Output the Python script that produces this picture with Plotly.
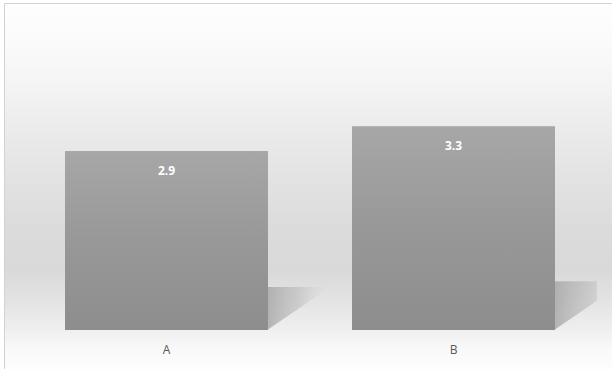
import base64
import plotly.graph_objects as go

# ---- data ----
categories = ["A", "B"]
values = [2.9, 3.3]
value_labels = ["2.9", "3.3"]

# ---- layout constants ----
W, H = 612, 369
ML, MR, MT, MB = 23, 15, 20, 39
BAR_W = 0.707
Y_MAX = 5.03
x_pos = list(range(len(categories)))

fig = go.Figure()

# background gradient (full figure) + thin frame lines, as an SVG image
stops = [(0, "#fefefe"), (40, "#fbfbfb"), (80, "#f5f5f5"), (115, "#eeeeee"),
         (170, "#e4e4e4"), (230, "#dbdbdb"), (270, "#d9d9d9"), (300, "#e3e3e3"),
         (330, "#efefef"), (350, "#f9f9f9"), (369, "#fdfdfd")]
stop_xml = "".join(f'<stop offset="{p / H:.4f}" stop-color="{c}"/>' for p, c in stops)
svg = (f'<svg xmlns="http://www.w3.org/2000/svg" width="{W}" height="{H}" viewBox="0 0 {W} {H}" preserveAspectRatio="none">'
       f'<defs><linearGradient id="g" x1="0" y1="0" x2="0" y2="1">{stop_xml}</linearGradient></defs>'
       f'<rect x="0" y="0" width="{W}" height="{H}" fill="url(#g)"/>'
       f'<rect x="0" y="0" width="{W}" height="3" fill="#ffffff"/>'
       f'<rect x="0" y="0" width="4" height="{H}" fill="#ffffff"/>'
       f'<line x1="4.5" y1="3.5" x2="{W}" y2="3.5" stroke="#d2d2d2" stroke-width="1"/>'
       f'<line x1="4.5" y1="3.5" x2="4.5" y2="{H}" stroke="#d2d2d2" stroke-width="1"/>'
       '</svg>')
src = "data:image/svg+xml;base64," + base64.b64encode(svg.encode()).decode()
pw, ph = W - ML - MR, H - MT - MB
fig.add_layout_image(dict(source=src, xref="paper", yref="paper",
                          x=-ML / pw, y=1 + MT / ph, sizex=W / pw, sizey=H / ph,
                          xanchor="left", yanchor="top", sizing="stretch", layer="below"))

# bars
fig.add_trace(go.Bar(x=x_pos, y=values, width=BAR_W, marker=dict(color="#9a9a9a", line=dict(width=0)),
                     hoverinfo="skip", showlegend=False))

# vertical gradient overlay on each bar + cast shadows
for i, v in zip(x_pos, values):
    xl, xr = i - BAR_W / 2, i + BAR_W / 2
    fig.add_trace(go.Scatter(x=[xl, xr, xr, xl, xl], y=[0, 0, v, v, 0], mode="lines",
                             line=dict(width=0), fill="toself",
                             fillgradient=dict(type="vertical", start=0, stop=v,
                                               colorscale=[[0, "#8d8d8d"], [0.5, "#989898"], [1, "#a7a7a7"]]),
                             hoverinfo="skip", showlegend=False))
    sh_h = 0.24 * v
    sh_w = 0.075 * v
    fig.add_trace(go.Scatter(x=[xr, xr, xr + sh_w, xr], y=[0.01, sh_h, sh_h, 0.01], mode="lines",
                             line=dict(width=0), fill="toself",
                             fillgradient=dict(type="horizontal", start=xr, stop=xr + sh_w,
                                               colorscale=[[0, "rgba(155,155,155,0.7)"],
                                                           [0.5, "rgba(175,175,175,0.45)"],
                                                           [1, "rgba(215,215,215,0.0)"]]),
                             hoverinfo="skip", showlegend=False))

# value labels
for i, v, t in zip(x_pos, values, value_labels):
    fig.add_annotation(x=i, y=v, text=f"<b>{t}</b>", showarrow=False, yshift=-19,
                       font=dict(family="Open Sans", size=12, color="#ffffff"))

fig.update_layout(
    width=W, height=H, margin=dict(l=ML, r=MR, t=MT, b=MB, pad=0),
    paper_bgcolor="#ffffff", plot_bgcolor="rgba(0,0,0,0)",
    showlegend=False,
    xaxis=dict(range=[-0.5, len(categories) - 0.5], tickvals=x_pos, ticktext=categories,
               showgrid=False, zeroline=False, showline=False, ticks="",
               ticklabelstandoff=11, tickfont=dict(family="Open Sans", size=12, color="#595959"),
               fixedrange=True),
    yaxis=dict(range=[0, Y_MAX], visible=False, showgrid=False, zeroline=False, fixedrange=True),
)

fig.write_html("out.html", config={"displayModeBar": False})
